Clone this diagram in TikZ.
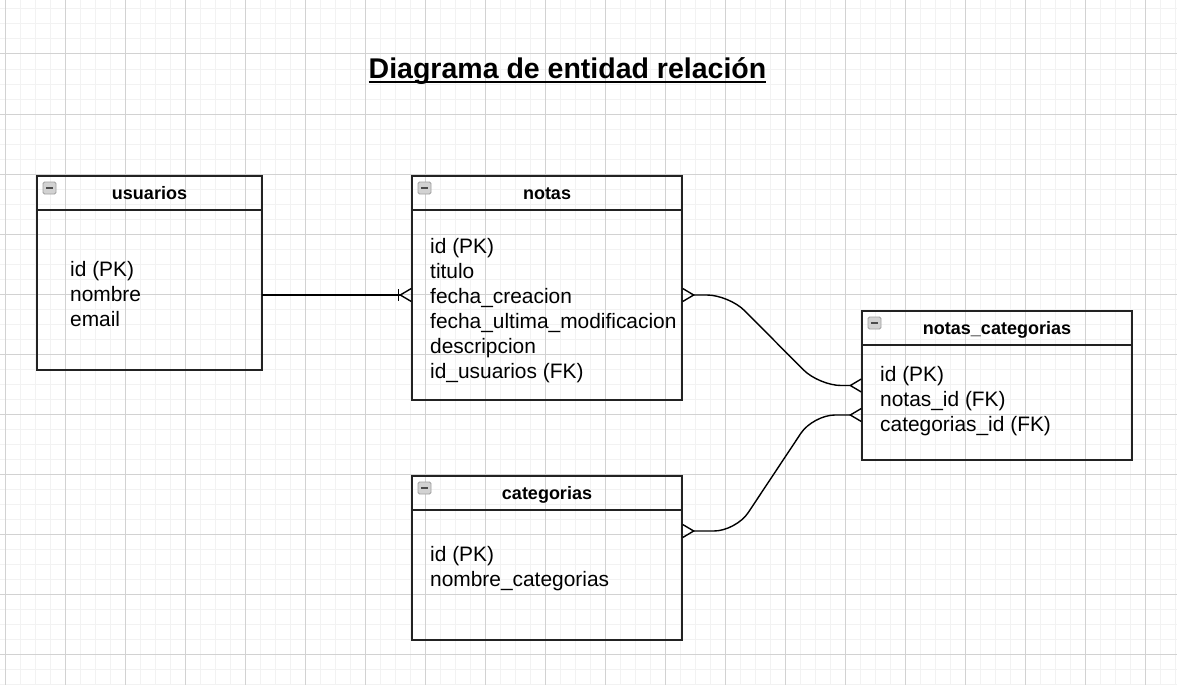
\documentclass[tikz,border=0pt]{standalone}
\usepackage{fontspec}
\setmainfont{Liberation Sans}
\usetikzlibrary{arrows.meta}
\definecolor{gridminor}{HTML}{F2F2F2}
\definecolor{gridmajor}{HTML}{D2D2D2}
\definecolor{boxline}{HTML}{222222}
\tikzset{
  entity/.style={draw=boxline, line width=1.4pt, rectangle, anchor=north west, inner sep=0pt, outer sep=0pt},
  header/.style={anchor=base, font=\fontsize{18}{22}\selectfont\bfseries, inner sep=0pt},
  attrs/.style={anchor=north west, align=left, inner sep=0pt, font=\fontsize{20.9}{25}\selectfont},
  icon/.style={draw=gray!75, fill=gray!35, rounded corners=1.5pt, line width=0.8pt},
  rel/.style={line width=1.4pt, rounded corners=22pt},
  crow/.tip={Straight Barb[reversed,length=11pt,width=13pt]},
  onecrow/.tip={Bar[width=12pt] crow}
}

\begin{document}
\begin{tikzpicture}[x=1pt,y=-1pt]
\useasboundingbox (0,0) rectangle (1177,685);
% grid
\foreach \gx in {5,20,...,1175} \draw[gridminor, line width=1pt] (\gx,0) -- (\gx,685);
\foreach \gy in {9,24,...,684} \draw[gridminor, line width=1pt] (0,\gy) -- (1177,\gy);
\foreach \gx in {5,65,...,1145} \draw[gridmajor, line width=1pt] (\gx,0) -- (\gx,685);
\foreach \gy in {54,114,...,654} \draw[gridmajor, line width=1pt] (0,\gy) -- (1177,\gy);

% title
\node[font=\fontsize{28.5}{34}\selectfont\bfseries, anchor=base, inner sep=0pt] (title) at (567.5,78) {Diagrama de entidad relación};
\draw[line width=2pt] ([yshift=-4pt]title.base west) -- ([yshift=-4pt]title.base east);

% tablas
\node[entity, minimum width=225pt, minimum height=194pt] (usuarios) at (37,176) {};
\node[entity, minimum width=270pt, minimum height=224pt] (notas) at (412,176) {};
\node[entity, minimum width=270pt, minimum height=149pt] (notascat) at (862,311) {};
\node[entity, minimum width=270pt, minimum height=164pt] (categorias) at (412,476) {};

\foreach \ent/\lbl in {usuarios/usuarios, notas/notas, notascat/notas\_categorias, categorias/categorias} {
  \draw[boxline, line width=1.4pt] ([yshift=-34pt]\ent.north west) -- ([yshift=-34pt]\ent.north east);
  \node[header] (\ent-title) at ([yshift=-23pt]\ent.north) {\lbl};
  \draw[icon] ([xshift=6pt,yshift=-6pt]\ent.north west) rectangle ++(13,12);
  \draw[gray!60!black, line width=1.2pt] ([xshift=9pt,yshift=-12pt]\ent.north west) -- ++(7,0);
}

% atributos
\node[attrs] (usuarios-attrs) at (70,258.5) {\strut id (PK)\\ nombre\\ email};
\node[attrs] (notas-attrs) at (430,235.5) {\strut id (PK)\\ titulo\\ fecha\_creacion\\ fecha\_ultima\_modificacion\\ descripcion\\ id\_usuarios (FK)};
\node[attrs] (notascat-attrs) at (880,363.5) {\strut id (PK)\\ notas\_id (FK)\\ categorias\_id (FK)};
\node[attrs] (categorias-attrs) at (430,543.5) {\strut id (PK)\\ nombre\_categorias};

% relaciones
\draw[rel, -onecrow] ([yshift=-22pt]usuarios.east) -- ([yshift=-7pt]notas.west);
\draw[rel, crow-crow] ([yshift=-7pt]notas.east) -- ++(47,0) -- ([xshift=-43pt]notascat.west) -- (notascat.west);
\draw[rel, crow-crow] ([yshift=27pt]categorias.east) -- ++(54,0) -- ([xshift=-49pt,yshift=-29.5pt]notascat.west) -- ([yshift=-29.5pt]notascat.west);
\end{tikzpicture}
\end{document}
